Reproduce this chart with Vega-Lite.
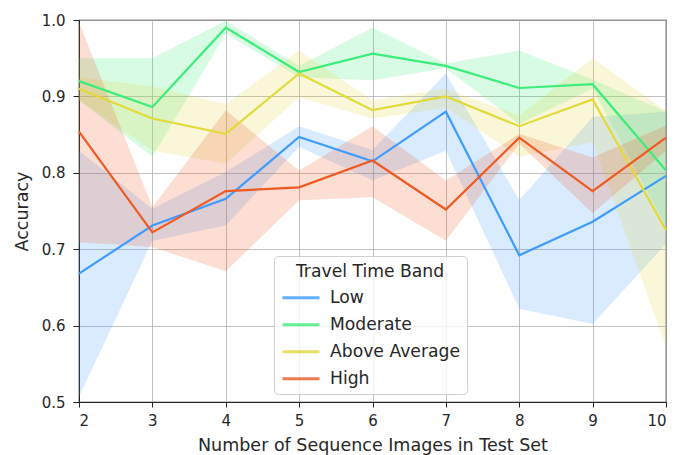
{
  "$schema": "https://vega.github.io/schema/vega-lite/v6.json",
  "autosize": "none",
  "width": 587,
  "height": 382,
  "padding": {"left": 79, "top": 20, "right": 9, "bottom": 53},
  "background": "white",
  "config": {
    "font": "DejaVu Sans",
    "view": {"stroke": "#222222", "strokeWidth": 1.2},
    "axis": {
      "labelFont": "DejaVu Sans", "titleFont": "DejaVu Sans",
      "labelFontSize": 15, "titleFontSize": 17.5,
      "labelColor": "#262626", "titleColor": "#262626", "titleFontWeight": "normal",
      "domainColor": "#222222", "tickColor": "#222222", "tickSize": 5,
      "gridColor": "#b0b0b0", "gridWidth": 1, "gridOpacity": 0.8
    },
    "legend": {
      "labelFont": "DejaVu Sans", "titleFont": "DejaVu Sans"
    }
  },
  "resolve": {"legend": {"color": "independent"}},
  "data": {"values": [
    {"n": 2, "band": "Low", "acc": 0.668, "lo": 0.507, "hi": 0.829},
    {"n": 3, "band": "Low", "acc": 0.731, "lo": 0.711, "hi": 0.753},
    {"n": 4, "band": "Low", "acc": 0.766, "lo": 0.731, "hi": 0.801},
    {"n": 5, "band": "Low", "acc": 0.847, "lo": 0.834, "hi": 0.861},
    {"n": 6, "band": "Low", "acc": 0.815, "lo": 0.79, "hi": 0.83},
    {"n": 7, "band": "Low", "acc": 0.880, "lo": 0.829, "hi": 0.930},
    {"n": 8, "band": "Low", "acc": 0.692, "lo": 0.622, "hi": 0.764},
    {"n": 9, "band": "Low", "acc": 0.736, "lo": 0.602, "hi": 0.873},
    {"n": 10, "band": "Low", "acc": 0.796, "lo": 0.707, "hi": 0.88},
    {"n": 2, "band": "Moderate", "acc": 0.920, "lo": 0.895, "hi": 0.950},
    {"n": 3, "band": "Moderate", "acc": 0.886, "lo": 0.821, "hi": 0.950},
    {"n": 4, "band": "Moderate", "acc": 0.990, "lo": 0.982, "hi": 0.999},
    {"n": 5, "band": "Moderate", "acc": 0.932, "lo": 0.925, "hi": 0.940},
    {"n": 6, "band": "Moderate", "acc": 0.956, "lo": 0.921, "hi": 0.990},
    {"n": 7, "band": "Moderate", "acc": 0.940, "lo": 0.937, "hi": 0.943},
    {"n": 8, "band": "Moderate", "acc": 0.911, "lo": 0.864, "hi": 0.960},
    {"n": 9, "band": "Moderate", "acc": 0.916, "lo": 0.91, "hi": 0.922},
    {"n": 10, "band": "Moderate", "acc": 0.803, "lo": 0.73, "hi": 0.88},
    {"n": 2, "band": "Above Average", "acc": 0.910, "lo": 0.895, "hi": 0.925},
    {"n": 3, "band": "Above Average", "acc": 0.871, "lo": 0.829, "hi": 0.913},
    {"n": 4, "band": "Above Average", "acc": 0.851, "lo": 0.812, "hi": 0.890},
    {"n": 5, "band": "Above Average", "acc": 0.930, "lo": 0.899, "hi": 0.960},
    {"n": 6, "band": "Above Average", "acc": 0.882, "lo": 0.871, "hi": 0.895},
    {"n": 7, "band": "Above Average", "acc": 0.900, "lo": 0.885, "hi": 0.910},
    {"n": 8, "band": "Above Average", "acc": 0.861, "lo": 0.821, "hi": 0.875},
    {"n": 9, "band": "Above Average", "acc": 0.896, "lo": 0.84, "hi": 0.950},
    {"n": 10, "band": "Above Average", "acc": 0.725, "lo": 0.572, "hi": 0.881},
    {"n": 2, "band": "High", "acc": 0.854, "lo": 0.709, "hi": 0.997},
    {"n": 3, "band": "High", "acc": 0.722, "lo": 0.703, "hi": 0.755},
    {"n": 4, "band": "High", "acc": 0.776, "lo": 0.671, "hi": 0.882},
    {"n": 5, "band": "High", "acc": 0.781, "lo": 0.764, "hi": 0.803},
    {"n": 6, "band": "High", "acc": 0.816, "lo": 0.768, "hi": 0.861},
    {"n": 7, "band": "High", "acc": 0.752, "lo": 0.711, "hi": 0.790},
    {"n": 8, "band": "High", "acc": 0.846, "lo": 0.838, "hi": 0.851},
    {"n": 9, "band": "High", "acc": 0.776, "lo": 0.747, "hi": 0.820},
    {"n": 10, "band": "High", "acc": 0.846, "lo": 0.829, "hi": 0.862}
  ]},
  "encoding": {
    "x": {
      "field": "n", "type": "quantitative",
      "scale": {"domain": [2, 10], "nice": false, "zero": false},
      "axis": {"values": [2, 3, 4, 5, 6, 7, 8, 9, 10], "title": "Number of Sequence Images in Test Set", "format": "d", "titlePadding": 8, "labelPadding": 6}
    }
  },
  "layer": [
    {
      "mark": {"type": "area", "opacity": 0.2, "interpolate": "linear"},
      "encoding": {
        "y": {"field": "lo", "type": "quantitative", "scale": {"domain": [0.5, 1.0], "nice": false, "zero": false},
              "axis": {"values": [0.5, 0.6, 0.7, 0.8, 0.9, 1.0], "format": ".1f", "title": "Accuracy", "titlePadding": 10, "labelPadding": 8, "tickSize": 6}},
        "y2": {"field": "hi"},
        "color": {"field": "band", "type": "nominal", "legend": null,
          "scale": {"domain": ["Low", "Moderate", "Above Average", "High"], "range": ["#3f9cff", "#3ced7a", "#e2d93a", "#f05a22"]}}
      }
    },
    {
      "mark": {"type": "line", "strokeWidth": 2.2},
      "encoding": {
        "y": {"field": "acc", "type": "quantitative"},
        "color": {
          "field": "band", "type": "nominal",
          "scale": {"domain": ["Low", "Moderate", "Above Average", "High"], "range": ["#3f9cff", "#3ced7a", "#e2d93a", "#f05a22"]},
          "legend": {
            "title": "Travel Time Band",
            "orient": "none", "legendX": 195, "legendY": 236,
            "symbolType": "M-1,0L2.7,0", "symbolSize": 400, "symbolStrokeWidth": 3, "symbolOpacity": 0.8,
            "titleFontSize": 17.2, "titleFontWeight": "normal", "titleColor": "#262626", "titleAnchor": "middle",
            "labelFontSize": 17.2, "labelColor": "#262626", "labelOffset": 26,
            "rowPadding": 7, "titlePadding": 6,
            "strokeColor": "#d0d0d0", "fillColor": "rgba(255,255,255,0.8)", "cornerRadius": 4, "padding": 7,
            "offset": 0
          }
        }
      }
    }
  ]
}
